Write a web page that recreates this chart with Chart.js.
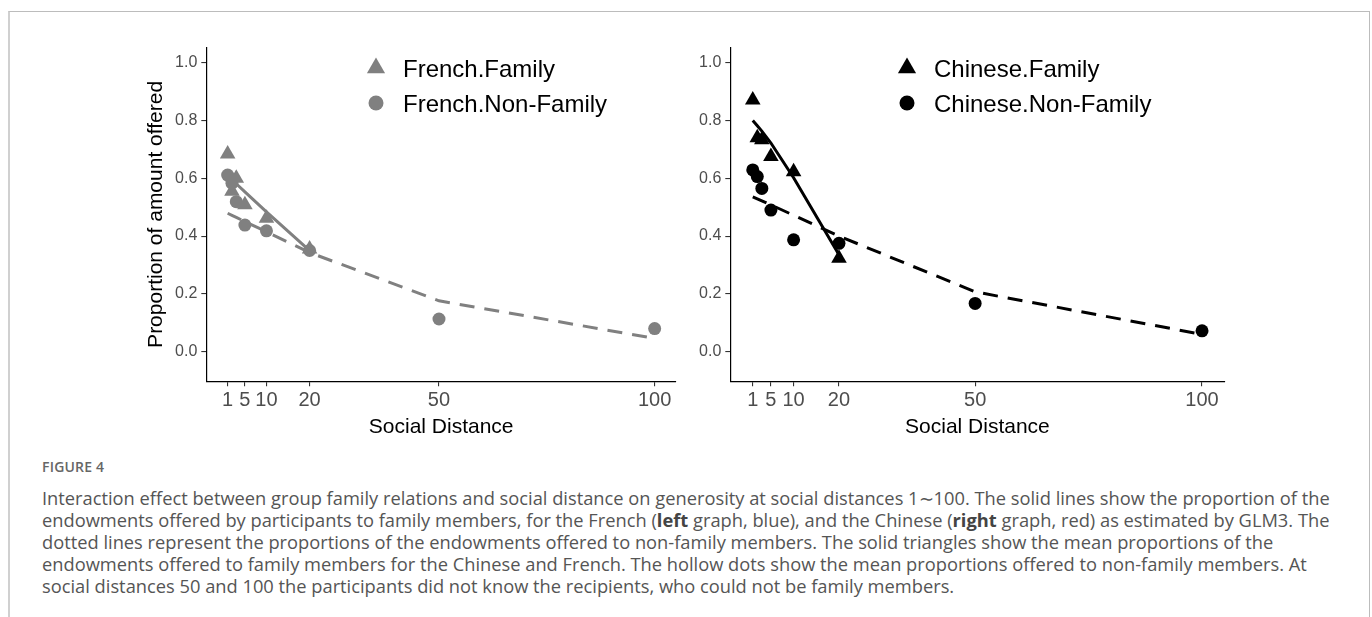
<!DOCTYPE html>
<html>
<head>
<meta charset="utf-8">
<script src="https://cdn.jsdelivr.net/npm/chart.js@4.4.1/dist/chart.umd.min.js"></script>
<style>
  html, body { margin: 0; padding: 0; background: #fff; }
  body { width: 1372px; height: 617px; position: relative; overflow: hidden; }
  #frame {
    position: absolute; left: 8px; top: 11px; width: 1359px; height: 640px;
    border-top: 1px solid #bcbcbc; border-left: 2px solid #d0d0d0; border-right: 1px solid #bcbcbc;
  }
  canvas { position: absolute; }
  #fig-label {
    position: absolute; left: 42px; top: 457px;
    font: 600 14px "Open Sans", sans-serif; color: #666; letter-spacing: 0.2px;
  }
  #caption {
    position: absolute; left: 42px; top: 487px;
    font: 18.5px/22px "Open Sans", sans-serif; color: #555; white-space: nowrap;
  }
  #caption .line { width: max-content; }
  #caption b { font-weight: 700; color: #444; }
</style>
</head>
<body>
<div id="frame"></div>
<canvas id="french" width="545" height="420" style="left:140px;top:20px;width:545px;height:420px"></canvas>
<canvas id="chinese" width="545" height="420" style="left:690px;top:20px;width:545px;height:420px"></canvas>
<div id="fig-label">FIGURE 4</div>
<div id="caption">
  <div class="line">Interaction effect between group family relations and social distance on generosity at social distances 1∼100. The solid lines show the proportion of the</div>
  <div class="line">endowments offered by participants to family members, for the French (<b>left</b> graph, blue), and the Chinese (<b>right</b> graph, red) as estimated by GLM3. The</div>
  <div class="line">dotted lines represent the proportions of the endowments offered to non-family members. The solid triangles show the mean proportions of the</div>
  <div class="line">endowments offered to family members for the Chinese and French. The hollow dots show the mean proportions offered to non-family members. At</div>
  <div class="line">social distances 50 and 100 the participants did not know the recipients, who could not be family members.</div>
</div>
<script>
// Axis ticks
const xTickValues = [1, 5, 10, 20, 50, 100];
const yTickValues = [0, 0.2, 0.4, 0.6, 0.8, 1.0];

// Social distances of the fitted (GLM) curves
const fitDistFamily = [1, 2, 3, 5, 10, 20];
const fitDistNonFamily = [1, 2, 3, 5, 10, 20, 50, 100];

// French: observed means and fitted proportions
const frenchFamilyX = [1, 2, 3, 5, 10, 20];
const frenchFamilyY = [0.684, 0.555, 0.600, 0.508, 0.462, 0.355];
const frenchNonFamilyX = [1, 2, 3, 5, 10, 20, 50, 100];
const frenchNonFamilyY = [0.611, 0.583, 0.519, 0.438, 0.418, 0.350, 0.113, 0.080];
const frenchFamilyFit = [0.607, 0.594, 0.581, 0.553, 0.484, 0.350];
const frenchNonFamilyFit = [0.479, 0.472, 0.465, 0.450, 0.415, 0.343, 0.176, 0.046];

// Chinese: observed means and fitted proportions
const chineseFamilyX = [1, 2, 3, 5, 10, 20];
const chineseFamilyY = [0.871, 0.740, 0.733, 0.675, 0.623, 0.323];
const chineseNonFamilyX = [1, 2, 3, 5, 10, 20, 50, 100];
const chineseNonFamilyY = [0.629, 0.606, 0.565, 0.490, 0.387, 0.375, 0.167, 0.072];
const chineseFamilyFit = [0.800, 0.782, 0.763, 0.722, 0.602, 0.335];
const chineseNonFamilyFit = [0.536, 0.529, 0.522, 0.508, 0.472, 0.400, 0.207, 0.060];

const AXIS_FONT = '"Liberation Sans", Arial, sans-serif';

const pairs = (xs, ys) => xs.map((x, i) => ({ x: x, y: ys[i] }));

// Caption: size the text so the first line spans the text block width
(function fitCaption() {
  const cap = document.getElementById('caption');
  const first = cap.querySelector('.line');
  const targetWidth = 1290;
  const size = parseFloat(getComputedStyle(cap).fontSize);
  const w = first.getBoundingClientRect().width;
  if (w > 0) cap.style.fontSize = (size * targetWidth / w).toFixed(2) + 'px';
})();

// Legend drawn inside the panel, ggplot style
const insideLegend = {
  id: 'insideLegend',
  afterDraw(chart, args, opts) {
    const ctx = chart.ctx;
    ctx.save();
    opts.items.forEach((it, i) => {
      const y = opts.y + i * opts.gap;
      ctx.fillStyle = opts.color;
      Chart.helpers.drawPoint(ctx, { pointStyle: it.style, radius: it.radius, rotation: 0, borderWidth: 0 }, opts.markerX, y);
      ctx.fillStyle = '#000';
      ctx.font = opts.fontSize + 'px ' + AXIS_FONT;
      ctx.textAlign = 'left';
      ctx.textBaseline = 'middle';
      ctx.fillText(it.text, opts.textX, y + 2);
    });
    ctx.restore();
  }
};

function makePanel(id, p) {
  const W = 545, H = 420;
  const datasets = [
    {
      data: pairs(p.famX, p.famY), pointStyle: 'triangle', pointRadius: 9,
      backgroundColor: p.color, pointBorderWidth: 0, showLine: false
    },
    {
      data: pairs(p.nonX, p.nonY), pointStyle: 'circle', pointRadius: 6.5,
      backgroundColor: p.color, pointBorderWidth: 0, showLine: false
    },
    {
      data: pairs(fitDistFamily, p.famFit), showLine: true, pointRadius: 0,
      borderColor: p.color, borderWidth: 3, fill: false
    },
    {
      data: pairs(fitDistNonFamily, p.nonFit), showLine: true, pointRadius: 0,
      borderColor: p.color, borderWidth: 3, borderDash: [15, 10], fill: false
    }
  ];
  return new Chart(document.getElementById(id), {
    type: 'scatter',
    data: { datasets: datasets },
    plugins: [insideLegend],
    options: {
      responsive: false,
      animation: false,
      events: [],
      layout: { padding: { left: 0, right: W - p.areaRight, top: 27.5, bottom: 0 } },
      plugins: {
        legend: { display: false },
        tooltip: { enabled: false },
        insideLegend: {
          items: [
            { text: p.famLabel, style: 'triangle', radius: 10.5 },
            { text: p.nonLabel, style: 'circle', radius: 7.5 }
          ],
          color: p.color, markerX: p.legendMarkerX, textX: p.legendTextX,
          y: 48, gap: 35, fontSize: 24
        }
      },
      scales: {
        x: {
          type: 'linear', min: -3.95, max: 104.95,
          afterBuildTicks: s => { s.ticks = xTickValues.map(v => ({ value: v })); },
          afterFit: s => { s.height = H - 361.3; },
          border: { display: true, color: '#000', width: 1.2 },
          grid: { drawOnChartArea: false, drawTicks: true, tickLength: 5, color: '#333', lineWidth: 1.1 },
          ticks: {
            color: '#4d4d4d', padding: 2, maxRotation: 0, autoSkip: false,
            font: { family: AXIS_FONT, size: 20 },
            callback: v => String(v)
          },
          title: {
            display: true, text: 'Social Distance', color: '#000',
            font: { family: AXIS_FONT, size: 21 }, padding: { top: 0, bottom: 0 }
          }
        },
        y: {
          type: 'linear', min: -0.1025, max: 1.0525,
          afterBuildTicks: s => { s.ticks = yTickValues.map(v => ({ value: v })); },
          afterFit: s => { s.width = p.areaLeft; },
          border: { display: true, color: '#000', width: 1.2 },
          grid: { drawOnChartArea: false, drawTicks: true, tickLength: 5, color: '#333', lineWidth: 1.1 },
          ticks: {
            color: '#4d4d4d', padding: 4, autoSkip: false,
            font: { family: AXIS_FONT, size: 16 },
            callback: v => v.toFixed(1)
          },
          title: {
            display: p.yTitle !== '', text: p.yTitle, color: '#000',
            font: { family: AXIS_FONT, size: 21 }, padding: { top: 4, bottom: 0 }
          }
        }
      }
    }
  });
}

makePanel('french', {
  color: '#808080', areaLeft: 66.3, areaRight: 536.4,
  famX: frenchFamilyX, famY: frenchFamilyY, nonX: frenchNonFamilyX, nonY: frenchNonFamilyY,
  famFit: frenchFamilyFit, nonFit: frenchNonFamilyFit,
  famLabel: 'French.Family', nonLabel: 'French.Non-Family',
  legendMarkerX: 236, legendTextX: 263,
  yTitle: 'Proportion of amount offered'
});

makePanel('chinese', {
  color: '#000000', areaLeft: 40.3, areaRight: 534.5,
  famX: chineseFamilyX, famY: chineseFamilyY, nonX: chineseNonFamilyX, nonY: chineseNonFamilyY,
  famFit: chineseFamilyFit, nonFit: chineseNonFamilyFit,
  famLabel: 'Chinese.Family', nonLabel: 'Chinese.Non-Family',
  legendMarkerX: 217, legendTextX: 244,
  yTitle: ''
});
</script>
</body>
</html>
